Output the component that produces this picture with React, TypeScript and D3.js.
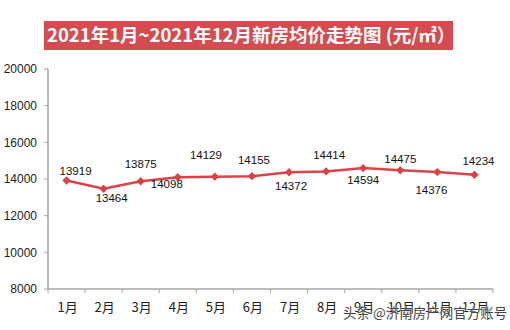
import React, { useEffect, useRef } from "react";
import * as d3 from "d3";

const months = ["1月", "2月", "3月", "4月", "5月", "6月", "7月", "8月", "9月", "10月", "11月", "12月"];
const prices = [13919, 13464, 13875, 14098, 14129, 14155, 14372, 14414, 14594, 14475, 14376, 14234];
const yTicks = [8000, 10000, 12000, 14000, 16000, 18000, 20000];
const titleMain = "2021年1月~2021年12月新房均价走势图 (元/㎡";
const titleEnd = "）";
const footerText = "头条 @济南房产网官方账号";
// label placement offsets (style, not data)
const labelDx = [9, 8, 0, -11, -9, 2, 2, 3, 0, 0, -6, 4];
const labelDy = [-10, 9, -17, 7, -22, -16, 14, -16, 12, -11, 18, -14];

const W = 510, H = 330;
const M = { left: 48, right: 493, top: 69, bottom: 289 };

export default function App() {
  const ref = useRef<SVGSVGElement>(null);
  useEffect(() => {
    const svg = d3.select(ref.current);
    svg.selectAll("*").remove();
    const x = d3.scaleBand().domain(months).range([M.left, M.right]);
    const y = d3.scaleLinear().domain([8000, 20000]).range([M.bottom, M.top]);
    const red = "#D9434A";
    const axisCol = "#a6a6a6";

    // title
    svg.append("rect").attr("x", 44).attr("y", 21).attr("width", 409).attr("height", 29).attr("fill", "#D64B50");
    const tt = svg.append("text").attr("x", 47).attr("y", 42).attr("text-anchor", "start")
      .attr("fill", "#fff").attr("font-weight", "bold").attr("font-size", 18.5)
      .attr("font-family", "'Noto Sans CJK SC', 'Noto Sans', sans-serif");
    tt.append("tspan").text(titleMain);
    tt.append("tspan").attr("font-family", "'Noto Sans CJK JP', 'Noto Sans CJK SC', sans-serif").text(titleEnd);

    // y axis
    const ya = svg.append("g");
    ya.append("line").attr("x1", M.left).attr("x2", M.left).attr("y1", M.top).attr("y2", M.bottom)
      .attr("stroke", axisCol).attr("stroke-width", 1.5);
    yTicks.forEach((t) => {
      ya.append("line").attr("x1", M.left - 4).attr("x2", M.left).attr("y1", y(t)).attr("y2", y(t))
        .attr("stroke", axisCol).attr("stroke-width", 1);
      ya.append("text").attr("x", 37).attr("y", y(t)).attr("dy", "0.35em").attr("text-anchor", "end")
        .attr("font-size", 12).attr("fill", "#222").attr("font-family", "'Liberation Sans', Arial, sans-serif").text(String(t));
    });

    // x axis
    const xa = svg.append("g");
    xa.append("line").attr("x1", M.left).attr("x2", M.right).attr("y1", M.bottom).attr("y2", M.bottom)
      .attr("stroke", axisCol).attr("stroke-width", 1.5);
    const bounds = months.map((m) => x(m) as number).concat([M.right]);
    bounds.forEach((b) => {
      xa.append("line").attr("x1", b).attr("x2", b).attr("y1", M.bottom).attr("y2", M.bottom + 4)
        .attr("stroke", axisCol).attr("stroke-width", 1);
    });
    months.forEach((m) => {
      xa.append("text").attr("x", (x(m) as number) + x.bandwidth() / 2 + 1).attr("y", 307).attr("dy", "0.35em")
        .attr("text-anchor", "middle").attr("font-size", 13).attr("fill", "#222")
        .attr("font-family", "'Noto Sans CJK SC', sans-serif").text(m);
    });

    // line
    const cx = (i: number) => (x(months[i]) as number) + x.bandwidth() / 2;
    const line = d3.line<number>().x((_, i) => cx(i)).y((d) => y(d));
    svg.append("path").datum(prices).attr("d", line).attr("fill", "none")
      .attr("stroke", red).attr("stroke-width", 2.5);
    const diamond = d3.symbol().type(d3.symbolDiamond2).size(45);
    prices.forEach((p, i) => {
      svg.append("path").attr("d", diamond()).attr("transform", `translate(${cx(i)},${y(p)})`)
        .attr("fill", red);
      svg.append("text").attr("x", cx(i) + labelDx[i]).attr("y", y(p) + labelDy[i]).attr("dy", "0.35em")
        .attr("text-anchor", "middle").attr("font-size", 11.5).attr("fill", "#111")
        .attr("font-family", "'Liberation Sans', Arial, sans-serif").text(String(p));
    });

    // footer watermark text
    svg.append("text").attr("x", 343).attr("y", 313).attr("dy", "0.35em").attr("font-size", 13.5)
      .attr("fill", "#444").attr("font-family", "'Noto Sans CJK SC', sans-serif")
      .attr("stroke", "#fff").attr("stroke-width", 0.5).attr("paint-order", "stroke").text(footerText);
  }, []);
  return (
    <svg ref={ref} width={W} height={H}
      style={{ position: "absolute", left: 0, top: 0, background: "#fff" }} />
  );
}
